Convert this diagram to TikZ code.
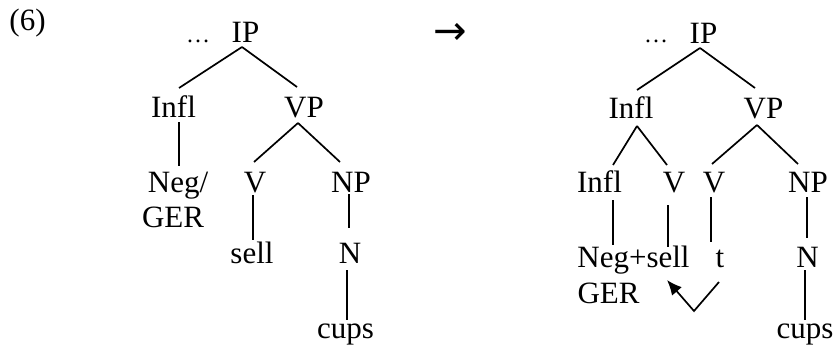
\documentclass[tikz,border=0pt]{standalone}
\usepackage{fontspec}
\setmainfont{Liberation Serif}
\newfontfamily\symfont{DejaVu Sans}
\usetikzlibrary{calc,arrows.meta}
\begin{document}
\begin{tikzpicture}[x=1pt,y=-1pt,
  lab/.style={font=\fontsize{31}{31}\selectfont, inner sep=0pt, anchor=base},
  dotlab/.style={font=\fontsize{24}{24}\selectfont, inner sep=0pt, anchor=base},
  edge/.style={line width=1.7pt, line cap=butt}]
\useasboundingbox (0,0) rectangle (837,345);
% ---------- left tree ----------
\node[lab] (six) at (27.5,31) {(6)};
\node[dotlab] (dotsL) at (198,43) {…};
\node[lab] (IPL) at (245.5,43) {IP};
\node[lab] (InflL) at (173.5,117) {Infl};
\node[lab] (VPL) at (304,117) {VP};
\node[lab] (NegL) at (178,192) {Neg/};
\node[lab] (GERL) at (173,227) {GER};
\node[lab] (VL) at (255,192) {V};
\node[lab] (NPL) at (351,192) {NP};
\node[lab] (sellL) at (252,263) {sell};
\node[lab] (NL) at (350,263) {N};
\node[lab] (cupsL) at (345.5,338) {cups};
\draw[edge] ($(IPL.base)+(-3.5,4)$) -- ($(InflL.base)+(5.5,-29)$);
\draw[edge] ($(IPL.base)+(-3.5,4)$) -- ($(VPL.base)+(-7,-30)$);
\draw[edge] ($(InflL.base)+(5.5,5)$) -- ($(NegL.base)+(1,-26)$);
\draw[edge] ($(VPL.base)+(-6,6)$) -- ($(VL.base)+(-1,-30)$);
\draw[edge] ($(VPL.base)+(-6,6)$) -- ($(NPL.base)+(-11,-30)$);
\draw[edge] ($(VL.base)+(-2,3)$) -- ($(sellL.base)+(1,-23)$);
\draw[edge] ($(NPL.base)+(-2,2)$) -- ($(NL.base)+(-1,-35)$);
\draw[edge] ($(NL.base)+(-3,7)$) -- ($(cupsL.base)+(1.5,-18)$);
% ---------- arrow ----------
\node[font=\fontsize{40}{40}\symfont, inner sep=0pt, anchor=base] (arr) at (450,45) {→};
% ---------- right tree ----------
\node[dotlab] (dotsR) at (656,43) {…};
\node[lab] (IPR) at (703.5,44) {IP};
\node[lab] (InflR) at (631,118) {Infl};
\node[lab] (VPR) at (763.5,118) {VP};
\node[lab] (InflTwoR) at (599.5,192) {Infl};
\node[lab] (VoneR) at (674,192) {V};
\node[lab] (VtwoR) at (714,192) {V};
\node[lab] (NPR) at (808,192) {NP};
\node[lab] (NegR) at (633.5,267) {Neg+sell};
\node[lab] (tR) at (720,267) {t};
\node[lab] (GERR) at (608.5,303) {GER};
\node[lab] (NR) at (807.5,267) {N};
\node[lab] (cupsR) at (805,338) {cups};
\draw[edge] ($(IPR.base)+(-3.5,4)$) -- ($(InflR.base)+(6,-28)$);
\draw[edge] ($(IPR.base)+(-3.5,4)$) -- ($(VPR.base)+(-8.5,-30)$);
\draw[edge] ($(InflR.base)+(6,8)$) -- ($(InflTwoR.base)+(13.5,-27)$);
\draw[edge] ($(InflR.base)+(6,8)$) -- ($(VoneR.base)+(-7,-27)$);
\draw[edge] ($(VPR.base)+(-6.5,7)$) -- ($(VtwoR.base)+(-2,-28)$);
\draw[edge] ($(VPR.base)+(-6.5,7)$) -- ($(NPR.base)+(-10,-28)$);
\draw[edge] ($(InflTwoR.base)+(13.5,8)$) -- ($(NegR.base)+(-20.5,-22)$);
\draw[edge] ($(VoneR.base)+(-6,13)$) -- ($(NegR.base)+(34.5,-20)$);
\draw[edge] ($(VtwoR.base)+(-3,5)$) -- ($(tR.base)+(-9,-25)$);
\draw[edge] ($(NPR.base)+(-1,5)$) -- ($(NR.base)+(-0.5,-29)$);
\draw[edge] ($(NR.base)+(-2.5,3)$) -- ($(cupsR.base)+(0,-18)$);
\coordinate (bend) at ($(tR.base)+(-26,44)$);
\draw[edge, -{Latex[length=15pt,width=13pt]}] ($(tR.base)+(-1,15)$) -- (bend) -- ($(NegR.base)+(33.5,13)$);
\end{tikzpicture}
\end{document}
